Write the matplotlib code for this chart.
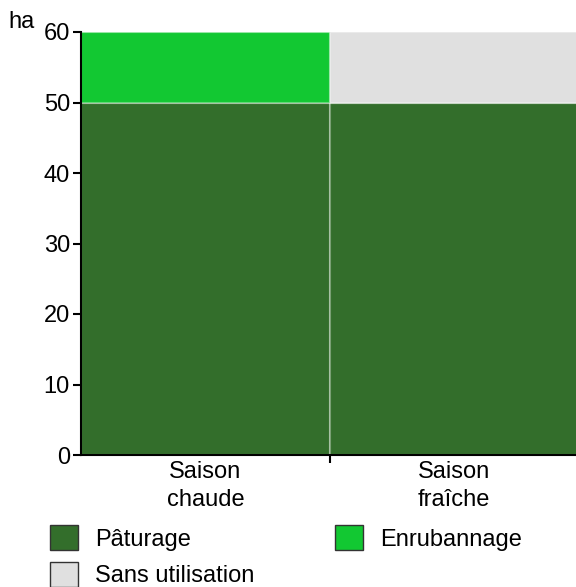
import numpy as np
import matplotlib.pyplot as plt
from matplotlib.patches import Patch

plt.rcParams["font.family"] = ["Liberation Sans", "DejaVu Sans"]

# Data
saisons = ["Saison\nchaude", "Saison\nfraîche"]
paturage = [50, 50]
enrubannage = [10, 0]
sans_utilisation = [0, 10]
series_names = ["Pâturage", "Enrubannage", "Sans utilisation"]
colors = ["#336e2b", "#12c832", "#e0e0e0"]
yticks = [0, 10, 20, 30, 40, 50, 60]

fig = plt.figure(figsize=(5.76, 5.87), dpi=100)
ax = fig.add_axes([81 / 576, 1 - 455 / 587, 1 - 81 / 576, (455 - 32) / 587])

x = np.arange(len(saisons))
edge = (1, 1, 1, 0.35)
bottom = np.zeros(len(saisons))
for vals, col in zip([paturage, enrubannage, sans_utilisation], colors):
    vals = np.array(vals, dtype=float)
    ax.bar(x, vals, width=1.0, bottom=bottom, color=col, edgecolor=edge,
           linewidth=1.5)
    bottom += vals

ax.set_xlim(-0.5, 1.49)
ax.set_ylim(0, 60)
ax.set_yticks(yticks)
ax.tick_params(axis="y", labelsize=17, length=6, width=1.5, pad=2)
ax.set_xticks([0.5])
ax.set_xticklabels([""])
ax.tick_params(axis="x", length=6, width=1.5)
for xi, lab in zip(x, saisons):
    ax.text(xi, -0.9, lab, ha="center", va="top", fontsize=17,
            linespacing=1.35, transform=ax.transData)

for s in ["top", "right"]:
    ax.spines[s].set_visible(False)
for s in ["left", "bottom"]:
    ax.spines[s].set_linewidth(1.5)
    ax.spines[s].set_zorder(5)

fig.text(8 / 576, 1 - 22 / 587, "ha", fontsize=17, ha="left", va="center")

handles = [Patch(facecolor=c, edgecolor="#333333", linewidth=1) for c in colors]
order = [0, 2, 1]
fig.legend([handles[i] for i in order], [series_names[i] for i in order],
           ncol=2, frameon=False, fontsize=17, loc="upper left",
           bbox_to_anchor=(50 / 576, 1 - 525 / 587), borderaxespad=0,
           borderpad=0, handlelength=1.19, handleheight=1.27,
           handletextpad=0.72, columnspacing=3.4, labelspacing=0.47)

fig.savefig("out.png", dpi=100)
